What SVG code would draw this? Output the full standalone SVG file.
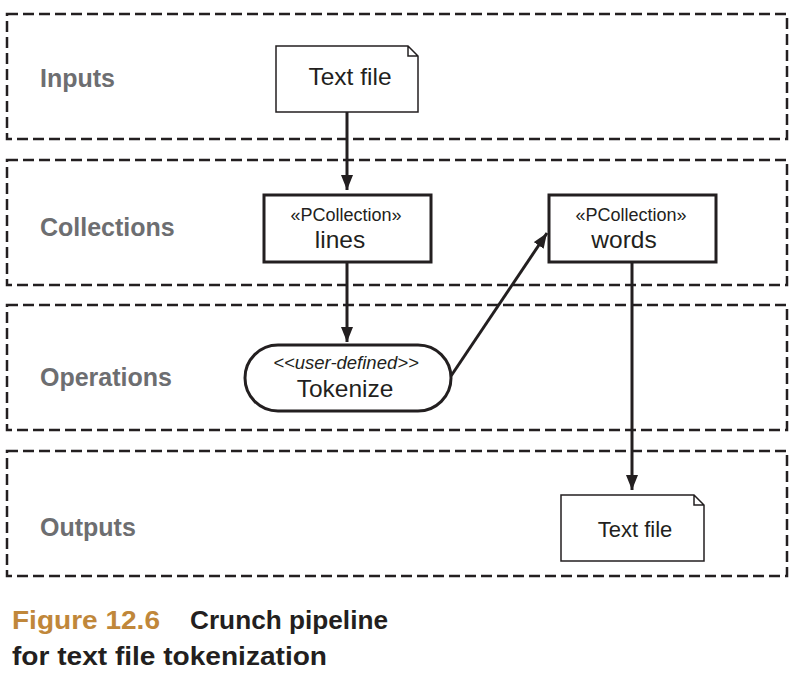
<svg xmlns="http://www.w3.org/2000/svg" width="799" height="682" viewBox="0 0 799 682">
<style>
.lane{fill:none;stroke:#231f20;stroke-width:2.5;stroke-dasharray:11 5}
.lbl{font-family:"Liberation Sans",Arial,sans-serif;font-weight:bold;font-size:25px;fill:#6d6e71}
.t{font-family:"Liberation Sans",Arial,sans-serif;fill:#231f20;text-anchor:middle}
.doc{fill:#fff;stroke:#231f20;stroke-width:1.5}
.box{fill:#fff;stroke:#231f20;stroke-width:3}
.conn{fill:none;stroke:#231f20;stroke-width:3}
.cap{font-family:"Liberation Sans",Arial,sans-serif;font-weight:bold;font-size:25px}
</style>
<defs>
<marker id="ah" viewBox="0 0 10 10" refX="10" refY="5" markerWidth="5" markerHeight="4" markerUnits="strokeWidth" orient="auto" preserveAspectRatio="none">
<path d="M0,0 L10,5 L0,10 z" fill="#231f20"/>
</marker>
</defs>
<g id="lanes">
<rect class="lane" x="7" y="14" width="780" height="125"/>
<rect class="lane" x="7" y="160" width="780" height="125"/>
<rect class="lane" x="7" y="305" width="780" height="125"/>
<rect class="lane" x="7" y="451" width="780" height="125"/>
<text class="lbl" x="40" y="87">Inputs</text>
<text class="lbl" x="40" y="236">Collections</text>
<text class="lbl" x="40" y="386">Operations</text>
<text class="lbl" x="40" y="536">Outputs</text>
</g>
<g id="connectors">
<line class="conn" x1="347" y1="112" x2="347" y2="190" marker-end="url(#ah)"/>
<line class="conn" x1="347" y1="262" x2="347" y2="342" marker-end="url(#ah)"/>
<line class="conn" x1="451" y1="376" x2="547" y2="233" marker-end="url(#ah)"/>
<line class="conn" x1="632" y1="262" x2="632" y2="490" marker-end="url(#ah)"/>
</g>
<g id="input-text-file">
<path class="doc" d="M276,46 H408 L418,56 V112 H276 Z M408,46 V56 H418"/>
<text class="t" x="350" y="85" font-size="24.5">Text file</text>
</g>
<g id="lines">
<rect class="box" x="264" y="195" width="167" height="67"/>
<text class="t" x="346" y="221" font-size="18">«PCollection»</text>
<text class="t" x="340" y="248" font-size="24.5">lines</text>
</g>
<g id="words">
<rect class="box" x="549" y="195" width="167" height="67"/>
<text class="t" x="631" y="221" font-size="18">«PCollection»</text>
<text class="t" x="624" y="248" font-size="24.5">words</text>
</g>
<g id="tokenize">
<rect class="box" x="245" y="345" width="206" height="66" rx="33" ry="33"/>
<text class="t" x="346" y="369" font-size="18.5" font-style="italic">&lt;&lt;user-defined&gt;&gt;</text>
<text class="t" x="345" y="397" font-size="24.5">Tokenize</text>
</g>
<g id="output-text-file">
<path class="doc" d="M561,495 H694 L704,505 V561 H561 Z M694,495 V505 H704"/>
<text class="t" x="635" y="537" font-size="22">Text file</text>
</g>
<g id="caption">
<text class="cap" x="12" y="629" fill="#c0873a" textLength="148" lengthAdjust="spacingAndGlyphs">Figure 12.6</text>
<text class="cap" x="190" y="629" fill="#231f20" textLength="198" lengthAdjust="spacingAndGlyphs">Crunch pipeline</text>
<text class="cap" x="12" y="665" fill="#231f20" textLength="315" lengthAdjust="spacingAndGlyphs">for text file tokenization</text>
</g>
</svg>
